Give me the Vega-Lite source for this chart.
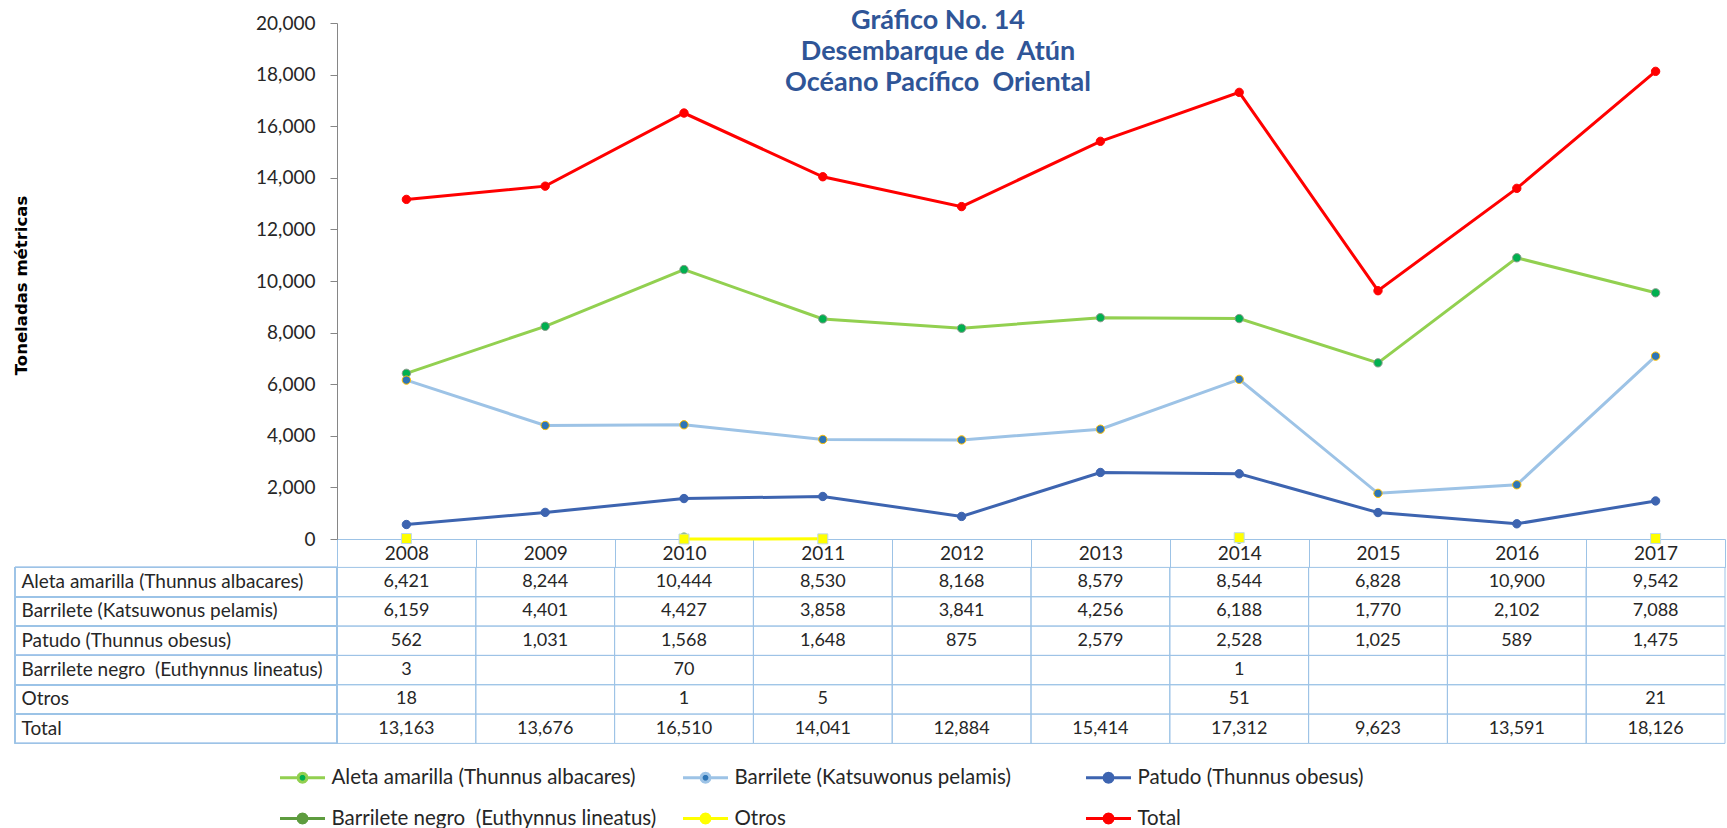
{
  "$schema": "https://vega.github.io/schema/vega-lite/v6.json",
  "autosize": {"type": "pad"},
  "padding": {"left": 13, "top": 7, "right": 0, "bottom": 0},
  "background": "white",
  "datasets": {
    "tuna": [
      {"year": "2008", "series": "Aleta amarilla (Thunnus albacares)", "value": 6421},
      {"year": "2009", "series": "Aleta amarilla (Thunnus albacares)", "value": 8244},
      {"year": "2010", "series": "Aleta amarilla (Thunnus albacares)", "value": 10444},
      {"year": "2011", "series": "Aleta amarilla (Thunnus albacares)", "value": 8530},
      {"year": "2012", "series": "Aleta amarilla (Thunnus albacares)", "value": 8168},
      {"year": "2013", "series": "Aleta amarilla (Thunnus albacares)", "value": 8579},
      {"year": "2014", "series": "Aleta amarilla (Thunnus albacares)", "value": 8544},
      {"year": "2015", "series": "Aleta amarilla (Thunnus albacares)", "value": 6828},
      {"year": "2016", "series": "Aleta amarilla (Thunnus albacares)", "value": 10900},
      {"year": "2017", "series": "Aleta amarilla (Thunnus albacares)", "value": 9542},
      {"year": "2008", "series": "Barrilete (Katsuwonus pelamis)", "value": 6159},
      {"year": "2009", "series": "Barrilete (Katsuwonus pelamis)", "value": 4401},
      {"year": "2010", "series": "Barrilete (Katsuwonus pelamis)", "value": 4427},
      {"year": "2011", "series": "Barrilete (Katsuwonus pelamis)", "value": 3858},
      {"year": "2012", "series": "Barrilete (Katsuwonus pelamis)", "value": 3841},
      {"year": "2013", "series": "Barrilete (Katsuwonus pelamis)", "value": 4256},
      {"year": "2014", "series": "Barrilete (Katsuwonus pelamis)", "value": 6188},
      {"year": "2015", "series": "Barrilete (Katsuwonus pelamis)", "value": 1770},
      {"year": "2016", "series": "Barrilete (Katsuwonus pelamis)", "value": 2102},
      {"year": "2017", "series": "Barrilete (Katsuwonus pelamis)", "value": 7088},
      {"year": "2008", "series": "Patudo (Thunnus obesus)", "value": 562},
      {"year": "2009", "series": "Patudo (Thunnus obesus)", "value": 1031},
      {"year": "2010", "series": "Patudo (Thunnus obesus)", "value": 1568},
      {"year": "2011", "series": "Patudo (Thunnus obesus)", "value": 1648},
      {"year": "2012", "series": "Patudo (Thunnus obesus)", "value": 875},
      {"year": "2013", "series": "Patudo (Thunnus obesus)", "value": 2579},
      {"year": "2014", "series": "Patudo (Thunnus obesus)", "value": 2528},
      {"year": "2015", "series": "Patudo (Thunnus obesus)", "value": 1025},
      {"year": "2016", "series": "Patudo (Thunnus obesus)", "value": 589},
      {"year": "2017", "series": "Patudo (Thunnus obesus)", "value": 1475},
      {"year": "2008", "series": "Barrilete negro\u00a0 (Euthynnus lineatus)", "value": 3},
      {"year": "2009", "series": "Barrilete negro\u00a0 (Euthynnus lineatus)", "value": null},
      {"year": "2010", "series": "Barrilete negro\u00a0 (Euthynnus lineatus)", "value": 70},
      {"year": "2011", "series": "Barrilete negro\u00a0 (Euthynnus lineatus)", "value": null},
      {"year": "2012", "series": "Barrilete negro\u00a0 (Euthynnus lineatus)", "value": null},
      {"year": "2013", "series": "Barrilete negro\u00a0 (Euthynnus lineatus)", "value": null},
      {"year": "2014", "series": "Barrilete negro\u00a0 (Euthynnus lineatus)", "value": 1},
      {"year": "2015", "series": "Barrilete negro\u00a0 (Euthynnus lineatus)", "value": null},
      {"year": "2016", "series": "Barrilete negro\u00a0 (Euthynnus lineatus)", "value": null},
      {"year": "2017", "series": "Barrilete negro\u00a0 (Euthynnus lineatus)", "value": null},
      {"year": "2008", "series": "Otros", "value": 18},
      {"year": "2009", "series": "Otros", "value": null},
      {"year": "2010", "series": "Otros", "value": 1},
      {"year": "2011", "series": "Otros", "value": 5},
      {"year": "2012", "series": "Otros", "value": null},
      {"year": "2013", "series": "Otros", "value": null},
      {"year": "2014", "series": "Otros", "value": 51},
      {"year": "2015", "series": "Otros", "value": null},
      {"year": "2016", "series": "Otros", "value": null},
      {"year": "2017", "series": "Otros", "value": 21},
      {"year": "2008", "series": "Total", "value": 13163},
      {"year": "2009", "series": "Total", "value": 13676},
      {"year": "2010", "series": "Total", "value": 16510},
      {"year": "2011", "series": "Total", "value": 14041},
      {"year": "2012", "series": "Total", "value": 12884},
      {"year": "2013", "series": "Total", "value": 15414},
      {"year": "2014", "series": "Total", "value": 17312},
      {"year": "2015", "series": "Total", "value": 9623},
      {"year": "2016", "series": "Total", "value": 13591},
      {"year": "2017", "series": "Total", "value": 18126}
    ]
  },
  "columns": 2,
  "bounds": "flush",
  "spacing": {"row": 28.4, "column": 0},
  "concat": [
    {
      "width": 322,
      "height": 516,
      "data": {"values": []},
      "mark": "point"
    },
    {
      "width": 1388,
      "height": 516,
      "data": {"name": "tuna"},
      "title": {
        "text": ["Gráfico No. 14", "Desembarque de\u00a0 Atún", "Océano Pacífico\u00a0 Oriental"],
        "anchor": "middle",
        "frame": "group",
        "dx": -93,
        "offset": -83,
        "font": "Lato",
        "fontSize": 27,
        "fontWeight": "bold",
        "color": "#2F5597",
        "lineHeight": 31
      },
      "encoding": {
        "x": {
          "field": "year",
          "type": "ordinal",
          "scale": {"type": "band", "paddingInner": 0, "paddingOuter": 0},
          "axis": {
            "orient": "bottom",
            "title": null,
            "labelAngle": 0,
            "domainColor": "#9DC3E6",
            "domainWidth": 1,
            "tickBand": "extent",
            "tickColor": "#9DC3E6",
            "tickSize": 28.4,
            "labelFont": "Lato",
            "labelFontSize": 19,
            "labelColor": "#262626",
            "labelBaseline": "middle",
            "labelPadding": -14.2,
            "grid": false
          }
        },
        "y": {
          "field": "value",
          "type": "quantitative",
          "scale": {"domain": [0, 20000]},
          "axis": {
            "values": [0, 2000, 4000, 6000, 8000, 10000, 12000, 14000, 16000, 18000, 20000],
            "format": ",.0f",
            "grid": false,
            "domainColor": "#868686",
            "tickColor": "#868686",
            "tickSize": 7,
            "labelFont": "Lato",
            "labelFontSize": 19,
            "labelColor": "#262626",
            "labelPadding": 15,
            "title": "Toneladas métricas",
            "titleFont": "DejaVu Sans",
            "titleFontSize": 16.5,
            "titleFontWeight": "bold",
            "titleColor": "#000000",
            "titleX": -316,
            "titleY": 262,
            "titleBaseline": "middle",
            "titleAlign": "center",
            "titleAngle": -90
          }
        }
      },
      "layer": [
        {
          "mark": {"type": "line", "strokeWidth": 3, "invalid": "break-paths-show-domains"},
          "encoding": {
            "color": {
              "field": "series",
              "type": "nominal",
              "scale": {
                "domain": ["Aleta amarilla (Thunnus albacares)", "Barrilete (Katsuwonus pelamis)", "Patudo (Thunnus obesus)", "Barrilete negro\u00a0 (Euthynnus lineatus)", "Otros", "Total"],
                "range": ["#92D050", "#9DC3E6", "#3D64B0", "#5E9C3F", "#FFFF00", "#FF0000"]
              },
              "legend": {
                "orient": "none",
                "legendX": 274.5,
                "legendY": 741.5,
                "direction": "horizontal",
                "columns": 3,
                "gridAlign": "all",
                "title": null,
                "labelFont": "Lato",
                "labelFontSize": 20.5,
                "labelColor": "#262626",
                "labelLimit": 0,
                "labelOffset": 16,
                "symbolType": "M-2,0L-0.4,0M0.4,0L2,0M0.4,0L0.346,0.2L0.2,0.346L0,0.4L-0.2,0.346L-0.346,0.2L-0.4,0L-0.346,-0.2L-0.2,-0.346L0,-0.4L0.2,-0.346L0.346,-0.2Z",
                "symbolSize": 506,
                "symbolStrokeWidth": 3,
                "columnPadding": 20,
                "rowPadding": 17,
                "encode": {
                  "symbols": {
                    "update": {
                      "fill": {"scale": "color", "field": "value"},
                      "stroke": {"scale": "color", "field": "value"},
                      "strokeWidth": {"value": 3}
                    }
                  }
                }
              }
            }
          }
        },
        {
          "transform": [{"filter": "isValid(datum.value) && datum.series != 'Otros'"}],
          "mark": {"type": "point", "shape": "circle", "filled": true, "opacity": 1, "strokeWidth": 1, "size": 70},
          "encoding": {
            "fill": {
              "field": "series",
              "type": "nominal",
              "scale": {
                "domain": ["Aleta amarilla (Thunnus albacares)", "Barrilete (Katsuwonus pelamis)", "Patudo (Thunnus obesus)", "Barrilete negro\u00a0 (Euthynnus lineatus)", "Otros", "Total"],
                "range": ["#00B050", "#2E75B6", "#3D64B0", "#5E9C3F", "#FFFF00", "#FF0000"]
              },
              "legend": null
            },
            "stroke": {
              "field": "series",
              "type": "nominal",
              "scale": {
                "domain": ["Aleta amarilla (Thunnus albacares)", "Barrilete (Katsuwonus pelamis)", "Patudo (Thunnus obesus)", "Barrilete negro\u00a0 (Euthynnus lineatus)", "Otros", "Total"],
                "range": ["#8A9A8A", "#FFC000", "#3D64B0", "#5E9C3F", "#BDD7EE", "#FF0000"]
              },
              "legend": null
            }
          }
        },
        {
          "transform": [{"filter": "isValid(datum.value) && datum.series == 'Otros'"}],
          "mark": {"type": "point", "shape": "square", "filled": true, "opacity": 1, "fill": "#FFFF00", "stroke": "#BDD7EE", "strokeWidth": 1, "size": 100}
        }
      ]
    },
    {
      "width": 322,
      "height": 176,
      "data": {"name": "tuna"},
      "mark": {"type": "rect", "filled": false, "stroke": "#9DC3E6", "strokeWidth": 1},
      "encoding": {
        "y": {
          "field": "series",
          "type": "nominal",
          "sort": ["Aleta amarilla (Thunnus albacares)", "Barrilete (Katsuwonus pelamis)", "Patudo (Thunnus obesus)", "Barrilete negro\u00a0 (Euthynnus lineatus)", "Otros", "Total"],
          "scale": {"paddingInner": 0, "paddingOuter": 0},
          "axis": {
            "orient": "left",
            "title": null,
            "ticks": false,
            "domain": false,
            "labelAlign": "left",
            "labelBaseline": "middle",
            "labelPadding": -6,
            "labelFont": "Lato",
            "labelFontSize": 19,
            "labelColor": "#262626",
            "labelLimit": 0
          }
        }
      }
    },
    {
      "width": 1388,
      "height": 176,
      "data": {"name": "tuna"},
      "encoding": {
        "x": {
          "field": "year",
          "type": "ordinal",
          "scale": {"type": "band", "paddingInner": 0, "paddingOuter": 0},
          "axis": null
        },
        "y": {
          "field": "series",
          "type": "nominal",
          "sort": ["Aleta amarilla (Thunnus albacares)", "Barrilete (Katsuwonus pelamis)", "Patudo (Thunnus obesus)", "Barrilete negro\u00a0 (Euthynnus lineatus)", "Otros", "Total"],
          "scale": {"paddingInner": 0, "paddingOuter": 0},
          "axis": null
        }
      },
      "layer": [
        {"mark": {"type": "rect", "filled": false, "stroke": "#9DC3E6", "strokeWidth": 1}},
        {
          "transform": [{"filter": "isValid(datum.value)"}],
          "mark": {"type": "text", "font": "Lato", "fontSize": 18, "color": "#262626"},
          "encoding": {"text": {"field": "value", "type": "quantitative", "format": ","}}
        }
      ]
    }
  ],
  "config": {
    "view": {"stroke": null}
  }
}
